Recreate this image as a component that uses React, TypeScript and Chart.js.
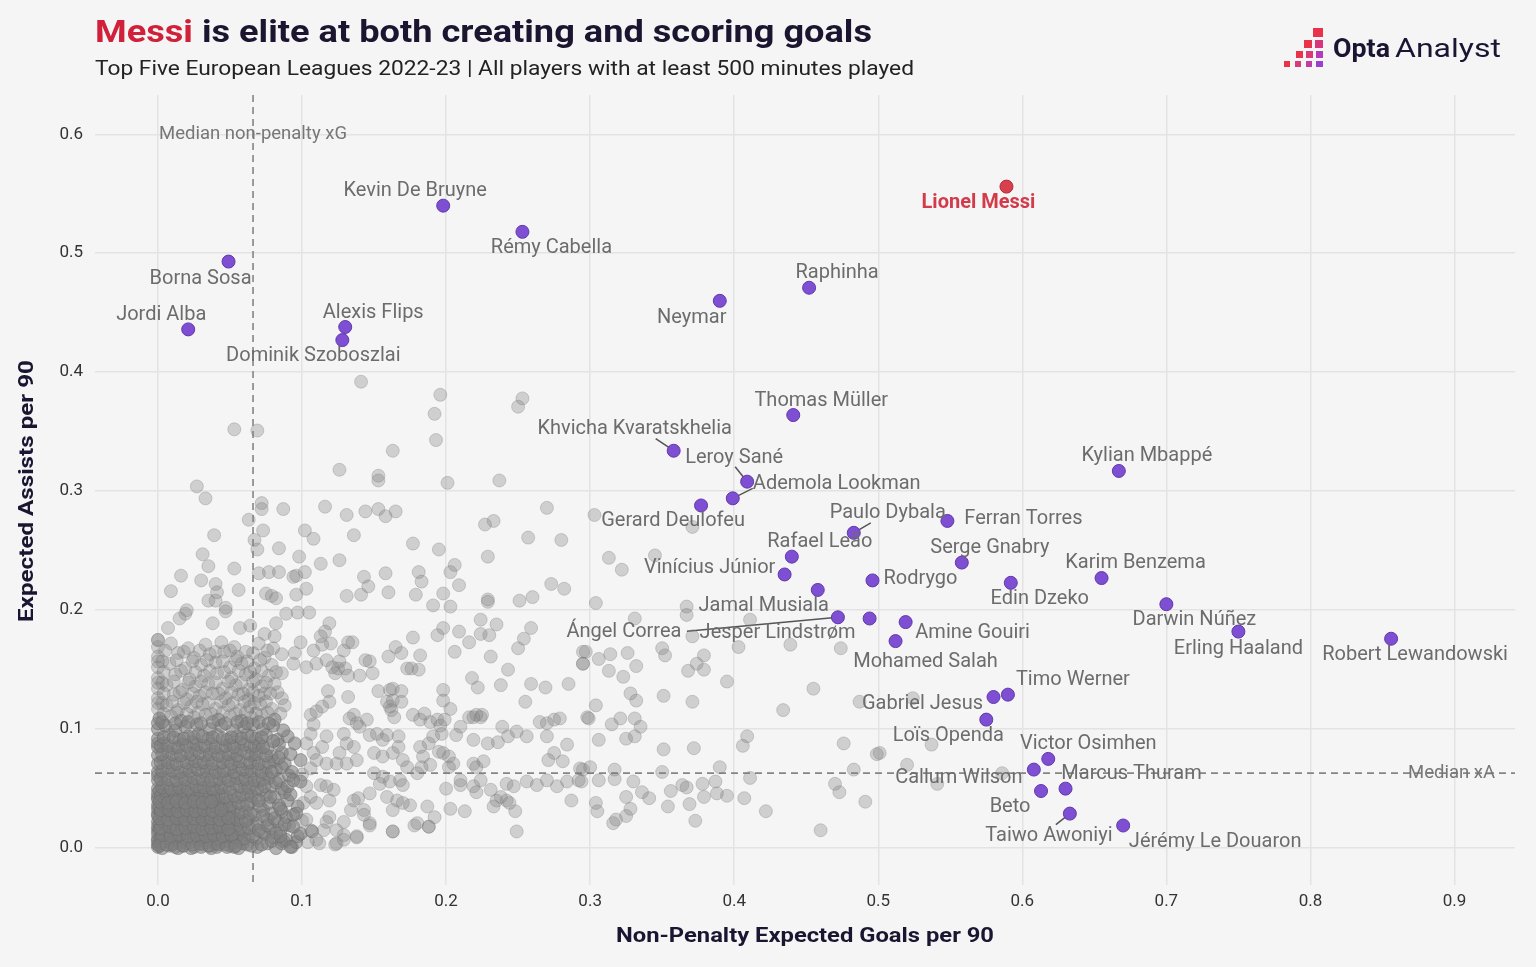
import React, { useEffect, useRef } from "react";
import { Chart, registerables } from "chart.js";
Chart.register(...registerables);

// ---------- DATA ----------
const xTicks = [0, 0.1, 0.2, 0.3, 0.4, 0.5, 0.6, 0.7, 0.8, 0.9];
const yTicks = [0, 0.1, 0.2, 0.3, 0.4, 0.5, 0.6];
const medianXG = 0.066;
const medianXA = 0.063;

const highlightNames = [
  "Kevin De Bruyne", "Rémy Cabella", "Borna Sosa", "Jordi Alba", "Alexis Flips",
  "Dominik Szoboszlai", "Neymar", "Raphinha", "Thomas Müller", "Khvicha Kvaratskhelia",
  "Leroy Sané", "Ademola Lookman", "Gerard Deulofeu", "Paulo Dybala", "Ferran Torres",
  "Kylian Mbappé", "Rafael Leão", "Vinícius Júnior", "Serge Gnabry", "Karim Benzema",
  "Jamal Musiala", "Rodrygo", "Edin Dzeko", "Darwin Núñez", "Erling Haaland",
  "Robert Lewandowski", "Ángel Correa", "Jesper Lindstrøm", "Amine Gouiri", "Mohamed Salah",
  "Timo Werner", "Gabriel Jesus", "Loïs Openda", "Victor Osimhen", "Callum Wilson",
  "Marcus Thuram", "Beto", "Taiwo Awoniyi", "Jérémy Le Douaron",
];
const highlightXG = [
  0.198, 0.253, 0.049, 0.021, 0.130, 0.128, 0.390, 0.452, 0.441, 0.358,
  0.409, 0.399, 0.377, 0.483, 0.548, 0.667, 0.440, 0.435, 0.558, 0.655,
  0.458, 0.496, 0.592, 0.700, 0.750, 0.856, 0.472, 0.494, 0.519, 0.512,
  0.590, 0.580, 0.575, 0.618, 0.608, 0.630, 0.613, 0.633, 0.670,
];
const highlightXA = [
  0.540, 0.518, 0.493, 0.436, 0.438, 0.427, 0.460, 0.471, 0.364, 0.334,
  0.308, 0.294, 0.288, 0.265, 0.275, 0.317, 0.245, 0.230, 0.240, 0.227,
  0.217, 0.225, 0.223, 0.205, 0.182, 0.176, 0.194, 0.193, 0.190, 0.174,
  0.129, 0.127, 0.108, 0.075, 0.066, 0.050, 0.048, 0.029, 0.019,
];
const messiName = "Lionel Messi";
const messiXG = 0.589;
const messiXA = 0.556;

// dense cluster of low-output players
const grayCore: [number, number][] = [
  [0,0.001],[0.002,0.004],[0.008,0.002],[0.014,0.000],[0.019,0.004],[0.025,0.001],[0.031,0.003],[0.037,0.000],[0.043,0.004],[0.050,0.002],[0.056,0.000],[0.062,0.003],[0.069,0.001],[0.076,0.004],[0.082,0.000],[0.093,0.001],[0.104,0.005],[0.112,0.004],[0.123,0.003],
  [0,0.008],[0.006,0.011],[0.011,0.007],[0.017,0.010],[0.022,0.012],[0.028,0.008],[0.034,0.011],[0.040,0.007],[0.045,0.012],[0.051,0.009],[0.057,0.007],[0.063,0.011],[0.068,0.008],[0.074,0.012],[0.080,0.009],[0.087,0.006],[0.097,0.010],
  [0,0.015],[0.003,0.018],[0.009,0.014],[0.014,0.019],[0.020,0.016],[0.026,0.014],[0.031,0.018],[0.037,0.015],[0.043,0.019],[0.048,0.014],[0.054,0.017],[0.060,0.015],[0.066,0.019],[0.072,0.014],[0.078,0.017],[0.085,0.015],[0.091,0.019],[0.107,0.014],
  [0,0.022],[0.006,0.025],[0.012,0.021],[0.017,0.024],[0.023,0.026],[0.029,0.022],[0.034,0.025],[0.040,0.021],[0.046,0.024],[0.052,0.026],[0.058,0.022],[0.063,0.025],[0.069,0.021],[0.076,0.024],[0.083,0.022],[0.089,0.026],[0.100,0.023],
  [0,0.029],[0.004,0.032],[0.009,0.028],[0.015,0.031],[0.020,0.033],[0.026,0.029],[0.032,0.032],[0.038,0.028],[0.044,0.031],[0.049,0.033],[0.055,0.029],[0.061,0.031],[0.067,0.028],[0.073,0.032],[0.079,0.029],[0.086,0.031],[0.094,0.028],
  [0,0.036],[0.006,0.039],[0.012,0.035],[0.018,0.038],[0.024,0.040],[0.030,0.036],[0.035,0.039],[0.041,0.035],[0.047,0.038],[0.053,0.040],[0.059,0.036],[0.065,0.039],[0.071,0.035],[0.077,0.038],[0.084,0.036],[0.090,0.040],
  [0,0.043],[0.003,0.046],[0.009,0.042],[0.015,0.045],[0.021,0.047],[0.027,0.043],[0.033,0.046],[0.039,0.042],[0.044,0.045],[0.050,0.047],[0.056,0.043],[0.062,0.046],[0.068,0.042],[0.075,0.045],[0.081,0.043],[0.088,0.047],
  [0,0.050],[0.006,0.053],[0.012,0.049],[0.018,0.052],[0.024,0.054],[0.029,0.050],[0.035,0.053],[0.041,0.049],[0.047,0.052],[0.054,0.054],[0.060,0.050],[0.066,0.053],[0.072,0.049],[0.079,0.052],[0.086,0.050],
  [0,0.057],[0.004,0.060],[0.010,0.056],[0.016,0.059],[0.022,0.061],[0.028,0.057],[0.034,0.060],[0.040,0.056],[0.046,0.059],[0.052,0.061],[0.058,0.057],[0.064,0.060],[0.070,0.056],[0.077,0.059],[0.084,0.057],[0.091,0.061],
  [0,0.064],[0.007,0.067],[0.013,0.063],[0.019,0.066],[0.025,0.068],[0.031,0.064],[0.037,0.067],[0.043,0.063],[0.050,0.066],[0.056,0.068],[0.062,0.064],[0.069,0.067],[0.075,0.063],[0.082,0.066],
  [0,0.071],[0.004,0.074],[0.010,0.070],[0.017,0.073],[0.023,0.075],[0.029,0.071],[0.035,0.074],[0.042,0.070],[0.048,0.073],[0.054,0.075],[0.061,0.071],[0.067,0.074],[0.074,0.070],[0.080,0.073],[0.088,0.071],
  [0,0.078],[0.007,0.081],[0.013,0.077],[0.020,0.080],[0.026,0.082],[0.033,0.078],[0.039,0.081],[0.045,0.077],[0.052,0.080],[0.058,0.082],[0.065,0.078],[0.071,0.081],[0.079,0.077],[0.086,0.080],
  [0,0.085],[0.004,0.088],[0.011,0.084],[0.017,0.087],[0.024,0.089],[0.030,0.085],[0.037,0.088],[0.044,0.084],[0.050,0.087],[0.057,0.089],[0.064,0.085],[0.070,0.088],[0.076,0.084],[0.084,0.087],
  [0,0.092],[0.008,0.095],[0.015,0.091],[0.021,0.094],[0.028,0.096],[0.035,0.092],[0.041,0.095],[0.048,0.091],[0.055,0.094],[0.062,0.096],[0.068,0.092],[0.075,0.095],[0.083,0.091],[0.090,0.094],
  [0,0.100],[0.005,0.103],[0.012,0.099],[0.019,0.102],[0.027,0.104],[0.036,0.100],[0.044,0.103],[0.052,0.099],[0.060,0.102],[0.066,0.104],[0.073,0.100],[0.080,0.103],[0.087,0.099],
  [0.001,0.109],[0.009,0.111],[0.016,0.107],[0.025,0.110],[0.033,0.112],[0.042,0.108],[0.050,0.111],[0.058,0.107],[0.065,0.110],[0.072,0.112],[0.081,0.108],
  [0,0.117],[0.006,0.120],[0.014,0.116],[0.023,0.119],[0.031,0.121],[0.040,0.117],[0.049,0.120],[0.057,0.116],[0.064,0.119],[0.071,0.121],[0.079,0.117],[0.088,0.120],
  [0,0.126],[0.011,0.129],[0.020,0.125],[0.029,0.128],[0.038,0.130],[0.047,0.126],[0.056,0.129],[0.063,0.125],[0.070,0.128],[0.078,0.130],[0.086,0.126],
  [0,0.134],[0.006,0.137],[0.017,0.133],[0.026,0.136],[0.035,0.138],[0.045,0.134],[0.054,0.137],[0.063,0.133],[0.072,0.136],[0.081,0.138],
  [0,0.143],[0.012,0.146],[0.022,0.142],[0.032,0.145],[0.041,0.147],[0.051,0.143],[0.061,0.146],[0.068,0.142],[0.077,0.145],[0.086,0.147],
  [0,0.152],[0.008,0.155],[0.019,0.151],[0.030,0.154],[0.040,0.156],[0.050,0.152],[0.058,0.155],[0.067,0.151],[0.079,0.154],
  [0,0.161],[0.014,0.164],[0.025,0.160],[0.036,0.163],[0.046,0.165],[0.055,0.161],[0.066,0.164],[0.074,0.160],[0.086,0.163],
  [0,0.169],[0.009,0.172],[0.021,0.168],[0.033,0.171],[0.044,0.173],[0.053,0.169],[0.070,0.172],[0.080,0.168],
  [0.001,0.005],[0.005,0.006],[0.011,0.004],[0.016,0.006],[0.022,0.005],[0.028,0.006],[0.034,0.005],[0.040,0.004],[0.046,0.006],[0.053,0.005],
  [0.000,0.012],[0.004,0.013],[0.009,0.012],[0.015,0.013],[0.020,0.011],[0.026,0.012],[0.032,0.013],[0.038,0.012],[0.044,0.011],[0.050,0.013],[0.056,0.012],
  [0.001,0.020],[0.006,0.019],[0.012,0.020],[0.018,0.019],[0.024,0.020],[0.030,0.019],[0.036,0.020],[0.042,0.019],[0.048,0.020],[0.055,0.019],
  [0.000,0.027],[0.004,0.026],[0.010,0.027],[0.016,0.026],[0.022,0.027],[0.028,0.026],[0.034,0.027],[0.040,0.026],[0.046,0.027],[0.052,0.026],
  [0.001,0.034],[0.007,0.033],[0.013,0.034],[0.019,0.033],[0.025,0.034],[0.031,0.033],[0.037,0.034],[0.043,0.033],[0.050,0.034],
  [0.000,0.041],[0.005,0.040],[0.011,0.041],[0.017,0.040],[0.023,0.041],[0.029,0.040],[0.036,0.041],[0.042,0.040],
  [0.001,0.048],[0.008,0.047],[0.014,0.048],[0.020,0.047],[0.027,0.048],[0.033,0.047],[0.039,0.048],
  [0,0.003],[0,0.006],[0,0.018],[0,0.033],[0,0.046],[0,0.061],[0,0.088],[0,0.105],[0,0.122],[0,0.139],[0,0.157],[0,0.175],
];

// further players packed into the same cluster
const grayCoreDense: [number, number][] = [
  [0.003,0.000],[0.010,0.003],[0.017,0.002],[0.023,0.000],[0.029,0.004],[0.035,0.002],[0.041,0.001],[0.047,0.003],[0.053,0.001],[0.059,0.004],[0.065,0.002],
  [0.002,0.009],[0.008,0.008],[0.014,0.010],[0.020,0.008],[0.025,0.010],[0.031,0.009],[0.037,0.010],[0.043,0.008],[0.048,0.010],[0.054,0.009],[0.060,0.008],[0.066,0.010],
  [0.001,0.016],[0.006,0.015],[0.011,0.017],[0.017,0.016],[0.023,0.018],[0.028,0.016],[0.034,0.015],[0.040,0.017],[0.045,0.016],[0.051,0.018],[0.057,0.016],[0.063,0.017],
  [0.003,0.023],[0.009,0.022],[0.015,0.024],[0.020,0.022],[0.026,0.023],[0.032,0.024],[0.037,0.022],[0.043,0.023],[0.049,0.022],[0.055,0.024],[0.061,0.023],
  [0.002,0.030],[0.007,0.031],[0.012,0.029],[0.018,0.030],[0.023,0.031],[0.029,0.030],[0.035,0.029],[0.041,0.030],[0.047,0.029],[0.052,0.031],[0.058,0.030],[0.064,0.029],
  [0.003,0.037],[0.009,0.036],[0.015,0.037],[0.021,0.036],[0.027,0.038],[0.033,0.037],[0.038,0.036],[0.044,0.037],[0.050,0.036],[0.056,0.038],[0.062,0.037],
  [0.002,0.044],[0.006,0.044],[0.012,0.043],[0.018,0.044],[0.024,0.045],[0.030,0.044],[0.036,0.043],[0.042,0.044],[0.047,0.043],[0.053,0.044],[0.059,0.045],[0.065,0.044],
  [0.003,0.051],[0.009,0.050],[0.015,0.051],[0.021,0.050],[0.027,0.052],[0.032,0.051],[0.038,0.050],[0.044,0.051],[0.050,0.050],[0.057,0.052],[0.063,0.051],[0.069,0.050],
  [0.002,0.058],[0.007,0.058],[0.013,0.057],[0.019,0.058],[0.025,0.059],[0.031,0.058],[0.037,0.057],[0.043,0.058],[0.049,0.057],[0.055,0.059],[0.061,0.058],[0.067,0.057],[0.073,0.058],
  [0.003,0.065],[0.010,0.065],[0.016,0.064],[0.022,0.065],[0.028,0.066],[0.034,0.065],[0.040,0.064],[0.046,0.065],[0.053,0.064],[0.059,0.066],[0.065,0.065],[0.072,0.064],
  [0.002,0.072],[0.007,0.072],[0.013,0.071],[0.020,0.072],[0.026,0.073],[0.032,0.072],[0.038,0.071],[0.045,0.072],[0.051,0.071],[0.057,0.073],[0.064,0.072],[0.070,0.071],[0.077,0.072],
  [0.003,0.079],[0.010,0.079],[0.016,0.078],[0.023,0.079],[0.029,0.080],[0.036,0.079],[0.042,0.078],[0.049,0.079],[0.055,0.078],[0.062,0.080],[0.068,0.079],[0.075,0.078],
  [0.002,0.086],[0.007,0.086],[0.014,0.085],[0.020,0.086],[0.027,0.087],[0.033,0.086],[0.040,0.085],[0.047,0.086],[0.053,0.085],[0.060,0.087],[0.067,0.086],[0.073,0.085],
  [0.004,0.093],[0.011,0.093],[0.018,0.092],[0.025,0.093],[0.031,0.094],[0.038,0.093],[0.045,0.092],[0.051,0.093],[0.058,0.092],[0.065,0.094],[0.072,0.093],
  [0.001,0.002],[0.006,0.003],[0.012,0.001],[0.018,0.002],[0.024,0.003],[0.030,0.001],[0.036,0.002],[0.042,0.003],[0.048,0.001],[0.054,0.002],
  [0.003,0.011],[0.009,0.010],[0.015,0.011],[0.021,0.010],[0.027,0.011],[0.033,0.010],[0.039,0.011],[0.045,0.010],[0.051,0.011],
  [0.002,0.017],[0.008,0.018],[0.013,0.016],[0.019,0.017],[0.025,0.018],[0.031,0.016],[0.037,0.017],[0.043,0.018],[0.049,0.016],
  [0.001,0.025],[0.007,0.024],[0.013,0.025],[0.019,0.024],[0.025,0.025],[0.031,0.024],[0.037,0.025],[0.043,0.024],[0.049,0.025],
  [0.002,0.032],[0.008,0.032],[0.014,0.031],[0.020,0.032],[0.026,0.031],[0.032,0.032],[0.038,0.031],[0.044,0.032],
  [0.001,0.039],[0.007,0.038],[0.013,0.039],[0.019,0.038],[0.025,0.039],[0.031,0.038],[0.037,0.039],
  [0.003,0.106],[0.012,0.105],[0.021,0.106],[0.030,0.105],[0.038,0.106],[0.047,0.105],[0.055,0.106],[0.062,0.105],[0.070,0.106],[0.077,0.105],
  [0.004,0.113],[0.013,0.114],[0.020,0.113],[0.028,0.114],[0.037,0.113],[0.045,0.114],[0.054,0.113],[0.061,0.114],[0.068,0.113],[0.076,0.114],[0.085,0.113],
  [0.003,0.122],[0.010,0.123],[0.018,0.122],[0.027,0.123],[0.035,0.122],[0.044,0.123],[0.052,0.122],[0.060,0.123],[0.067,0.122],[0.075,0.123],
  [0.004,0.130],[0.015,0.131],[0.024,0.130],[0.033,0.131],[0.042,0.130],[0.051,0.131],[0.059,0.130],[0.066,0.131],[0.074,0.130],[0.083,0.131],
  [0.003,0.139],[0.011,0.140],[0.021,0.139],[0.030,0.140],[0.040,0.139],[0.049,0.140],[0.058,0.139],[0.066,0.140],[0.075,0.139],
  [0.004,0.148],[0.016,0.149],[0.026,0.148],[0.036,0.149],[0.046,0.148],[0.056,0.149],[0.064,0.148],[0.072,0.149],[0.082,0.148],
  [0.003,0.157],[0.013,0.158],[0.024,0.157],[0.034,0.158],[0.045,0.157],[0.054,0.158],[0.062,0.157],[0.071,0.158],
  [0.005,0.166],[0.018,0.165],[0.029,0.166],[0.040,0.165],[0.050,0.166],[0.061,0.165],[0.076,0.166],
  [0.072,0.003],[0.079,0.006],[0.086,0.004],[0.070,0.015],[0.076,0.019],[0.082,0.013],[0.073,0.027],[0.081,0.025],[0.088,0.020],
  [0.070,0.040],[0.078,0.043],[0.085,0.033],[0.092,0.045],[0.074,0.052],[0.082,0.055],[0.090,0.052],[0.079,0.064],[0.086,0.068],
  [0.093,0.064],[0.084,0.076],[0.092,0.079],[0.080,0.090],[0.095,0.088],[0.097,0.035],[0.100,0.062],[0.096,0.005],
];

// mid band of players
const grayMid: [number, number][] = [
  [0.105,0.198],[0.097,0.198],[0.089,0.197],[0.119,0.189],[0.116,0.182],[0.113,0.178],[0.120,0.172],[0.114,0.171],[0.108,0.166],
  [0.177,0.177],[0.194,0.179],[0.198,0.185],[0.209,0.182],[0.224,0.192],[0.235,0.188],[0.230,0.179],[0.224,0.180],[0.216,0.173],
  [0.206,0.165],[0.231,0.161],[0.243,0.150],[0.250,0.168],[0.254,0.176],[0.259,0.185],[0.160,0.161],[0.165,0.169],[0.169,0.164],
  [0.182,0.162],[0.173,0.151],[0.176,0.151],[0.181,0.150],[0.132,0.173],[0.135,0.173],[0.129,0.166],[0.126,0.157],[0.125,0.151],
  [0.130,0.151],[0.117,0.158],[0.121,0.152],[0.110,0.155],[0.103,0.152],[0.094,0.155],[0.095,0.164],[0.099,0.173],[0.144,0.158],
  [0.147,0.157],[0.149,0.147],[0.140,0.145],[0.132,0.145],[0.123,0.147],[0.153,0.132],[0.161,0.133],[0.163,0.134],[0.169,0.132],
  [0.159,0.123],[0.163,0.124],[0.169,0.123],[0.162,0.116],[0.164,0.110],[0.161,0.119],[0.132,0.127],[0.118,0.132],[0.119,0.123],
  [0.114,0.119],[0.106,0.112],[0.110,0.115],[0.108,0.104],[0.198,0.133],[0.198,0.124],[0.203,0.117],[0.218,0.143],[0.222,0.135],
  [0.238,0.137],[0.255,0.123],[0.259,0.138],[0.269,0.135],[0.285,0.138],[0.216,0.110],[0.219,0.110],[0.224,0.110],[0.225,0.112],
  [0.221,0.112],[0.219,0.091],[0.229,0.088],[0.236,0.089],[0.239,0.102],[0.243,0.094],[0.249,0.098],[0.256,0.094],[0.265,0.106],
  [0.270,0.105],[0.275,0.108],[0.279,0.109],[0.270,0.094],[0.284,0.087],[0.275,0.080],[0.281,0.073],[0.271,0.074],[0.293,0.067],
  [0.298,0.110],[0.295,0.155],[0.295,0.165],[0.177,0.112],[0.182,0.108],[0.185,0.113],[0.189,0.106],[0.194,0.108],[0.196,0.103],
  [0.199,0.108],[0.210,0.102],[0.207,0.095],[0.197,0.096],[0.191,0.094],[0.188,0.088],[0.182,0.085],[0.184,0.077],[0.195,0.081],
  [0.198,0.080],[0.202,0.077],[0.205,0.071],[0.202,0.068],[0.189,0.070],[0.183,0.068],[0.180,0.063],[0.167,0.094],[0.159,0.095],
  [0.156,0.091],[0.152,0.096],[0.147,0.095],[0.140,0.102],[0.136,0.112],[0.133,0.109],[0.138,0.105],[0.145,0.108],[0.129,0.096],
  [0.131,0.088],[0.136,0.085],[0.126,0.080],[0.124,0.071],[0.131,0.071],[0.138,0.074],[0.150,0.080],[0.156,0.077],[0.163,0.080],
  [0.167,0.085],[0.170,0.074],[0.173,0.068],[0.117,0.094],[0.114,0.085],[0.106,0.096],[0.103,0.088],[0.108,0.080],[0.099,0.074],
  [0.110,0.074],[0.117,0.071],[0.106,0.067],[0.150,0.063],[0.156,0.060],[0.154,0.054],[0.161,0.056],[0.168,0.057],[0.170,0.053],
  [0.159,0.043],[0.166,0.040],[0.170,0.038],[0.175,0.036],[0.163,0.032],[0.147,0.046],[0.139,0.042],[0.134,0.032],[0.136,0.040],
  [0.143,0.032],[0.143,0.028],[0.147,0.021],[0.129,0.022],[0.119,0.026],[0.117,0.022],[0.115,0.015],[0.124,0.015],[0.129,0.007],
  [0.124,0.004],[0.138,0.010],[0.163,0.014],[0.180,0.021],[0.187,0.035],[0.192,0.026],[0.188,0.018],[0.203,0.033],[0.213,0.031],
  [0.200,0.050],[0.210,0.053],[0.219,0.052],[0.221,0.047],[0.224,0.057],[0.231,0.049],[0.235,0.040],[0.238,0.043],[0.242,0.054],
  [0.247,0.052],[0.244,0.038],[0.248,0.031],[0.249,0.014],[0.256,0.056],[0.263,0.053],[0.270,0.057],[0.277,0.052],[0.284,0.056],
  [0.287,0.040],[0.292,0.057],[0.242,0.040],[0.233,0.035],[0.210,0.057],[0.219,0.071],[0.221,0.068],[0.226,0.073],[0.094,0.057],
  [0.099,0.056],[0.103,0.052],[0.106,0.043],[0.113,0.053],[0.117,0.052],[0.122,0.049],[0.119,0.040],[0.110,0.038],[0.101,0.038],
  [0.096,0.029],[0.103,0.024],[0.094,0.018],[0.099,0.012],[0.106,0.015],[0.110,0.007],[0.089,0.007],[0.085,0.010],[0.092,0.001],
  [0.019,0.197],[0.015,0.193],[0.038,0.189],[0.047,0.199],[0.057,0.185],[0.064,0.187],[0.007,0.185],[0.000,0.175],[0.074,0.180],
  [0.082,0.189],[0.081,0.178],[0.129,0.011],[0.138,0.009],[0.147,0.019],[0.163,0.014],[0.178,0.019],[0.188,0.018],[0.107,0.014],
];

// upper and right-hand players
const grayUpper: [number, number][] = [
  [0.141,0.392],[0.196,0.381],[0.192,0.365],[0.193,0.343],[0.253,0.378],[0.250,0.371],[0.053,0.352],[0.069,0.351],[0.163,0.334],
  [0.126,0.318],[0.153,0.313],[0.153,0.309],[0.027,0.304],[0.033,0.294],[0.201,0.307],[0.237,0.309],[0.072,0.290],[0.072,0.285],
  [0.087,0.285],[0.116,0.287],[0.131,0.280],[0.144,0.283],[0.153,0.285],[0.158,0.279],[0.165,0.283],[0.063,0.276],[0.039,0.263],
  [0.073,0.267],[0.102,0.267],[0.108,0.260],[0.136,0.263],[0.270,0.286],[0.227,0.272],[0.233,0.275],[0.257,0.261],[0.280,0.259],
  [0.067,0.259],[0.069,0.251],[0.084,0.252],[0.098,0.245],[0.113,0.239],[0.126,0.242],[0.177,0.256],[0.195,0.251],[0.229,0.245],
  [0.031,0.247],[0.035,0.237],[0.053,0.235],[0.016,0.229],[0.030,0.225],[0.040,0.222],[0.041,0.215],[0.056,0.217],[0.009,0.216],
  [0.035,0.208],[0.040,0.208],[0.070,0.231],[0.077,0.232],[0.084,0.232],[0.094,0.228],[0.096,0.229],[0.102,0.232],[0.075,0.214],
  [0.079,0.212],[0.082,0.210],[0.096,0.213],[0.103,0.218],[0.143,0.228],[0.146,0.220],[0.141,0.213],[0.131,0.212],[0.158,0.231],
  [0.160,0.215],[0.181,0.232],[0.183,0.224],[0.179,0.213],[0.203,0.232],[0.206,0.238],[0.209,0.221],[0.198,0.214],[0.191,0.204],
  [0.203,0.203],[0.229,0.209],[0.229,0.207],[0.251,0.208],[0.260,0.211],[0.273,0.222],[0.282,0.218],[0.020,0.200],[0.047,0.202],
  [0.303,0.280],[0.371,0.270],[0.313,0.244],[0.322,0.234],[0.345,0.246],[0.304,0.206],[0.367,0.203],[0.367,0.196],[0.331,0.193],
  [0.411,0.192],[0.371,0.178],[0.403,0.169],[0.439,0.171],[0.474,0.168],[0.297,0.165],[0.295,0.155],[0.306,0.159],[0.314,0.163],
  [0.326,0.164],[0.332,0.153],[0.350,0.168],[0.352,0.162],[0.379,0.162],[0.374,0.155],[0.368,0.149],[0.379,0.150],[0.313,0.149],
  [0.323,0.144],[0.395,0.140],[0.328,0.130],[0.332,0.124],[0.351,0.128],[0.371,0.123],[0.455,0.134],[0.434,0.116],[0.487,0.123],
  [0.304,0.120],[0.299,0.109],[0.315,0.104],[0.321,0.109],[0.331,0.109],[0.335,0.102],[0.306,0.091],[0.325,0.092],[0.331,0.094],
  [0.351,0.083],[0.372,0.084],[0.409,0.094],[0.406,0.086],[0.476,0.088],[0.499,0.079],[0.390,0.068],[0.483,0.066],[0.300,0.068],
  [0.295,0.066],[0.317,0.066],[0.350,0.064],[0.411,0.059],[0.306,0.057],[0.317,0.058],[0.330,0.056],[0.294,0.056],[0.364,0.053],
  [0.367,0.051],[0.378,0.054],[0.387,0.056],[0.470,0.054],[0.336,0.047],[0.341,0.042],[0.356,0.048],[0.379,0.043],[0.388,0.046],
  [0.395,0.044],[0.407,0.042],[0.473,0.047],[0.491,0.039],[0.325,0.043],[0.304,0.038],[0.305,0.031],[0.328,0.033],[0.325,0.027],
  [0.318,0.024],[0.316,0.021],[0.354,0.035],[0.369,0.037],[0.373,0.023],[0.422,0.031],[0.460,0.015],[0.524,0.126],[0.537,0.087],
  [0.501,0.080],[0.520,0.070],[0.541,0.054],[0.586,0.063],
];

// label placement (pixel offsets from each point; optional leader start)
const labelLayout: Record<string, number[]> = {
  "Kevin De Bruyne": [-28, -15], "Rémy Cabella": [29, 16], "Borna Sosa": [-28, 17],
  "Jordi Alba": [-27, -14], "Alexis Flips": [28, -14], "Dominik Szoboszlai": [-29, 16],
  "Neymar": [-28, 17], "Raphinha": [28, -15], "Thomas Müller": [28, -14],
  "Khvicha Kvaratskhelia": [-39, -22, -18, -12], "Leroy Sané": [-13, -24, -12, -15],
  "Ademola Lookman": [104, -14, 20, -10], "Gerard Deulofeu": [-28, 16],
  "Paulo Dybala": [34, -20, 17, -10], "Ferran Torres": [76, -2], "Kylian Mbappé": [28, -15],
  "Rafael Leão": [28, -15], "Vinícius Júnior": [-75, -6], "Serge Gnabry": [28, -15],
  "Karim Benzema": [34, -15], "Jamal Musiala": [-54, 16], "Rodrygo": [48, -1],
  "Edin Dzeko": [29, 16], "Darwin Núñez": [28, 16], "Erling Haaland": [0, 17],
  "Robert Lewandowski": [24, 16], "Ángel Correa": [-214, 15, -151, 14],
  "Jesper Lindstrøm": [-92, 15], "Amine Gouiri": [67, 11], "Mohamed Salah": [30, 21],
  "Timo Werner": [65, -15], "Gabriel Jesus": [-71, 7], "Loïs Openda": [-38, 16],
  "Victor Osimhen": [40, -15], "Callum Wilson": [-75, 8], "Marcus Thuram": [66, -15],
  "Beto": [-31, 16], "Taiwo Awoniyi": [-21, 22, -14, 11], "Jérémy Le Douaron": [92, 16],
};

// ---------- helpers ----------
const FONT = "Roboto, 'Noto Sans', sans-serif";

function fitText(ctx: CanvasRenderingContext2D, text: string, x: number, y: number, w: number, align: CanvasTextAlign) {
  const m = ctx.measureText(text).width;
  const s = w / m;
  ctx.save();
  ctx.translate(x, y);
  ctx.scale(s, 1);
  ctx.textAlign = align;
  ctx.fillText(text, 0, 0);
  ctx.restore();
}

const overlayPlugin = {
  id: "overlay",
  beforeDatasetsDraw(chart: any) {
    const ctx: CanvasRenderingContext2D = chart.ctx;
    const a = chart.chartArea;
    const xs = chart.scales.x, ys = chart.scales.y;
    ctx.save();
    ctx.strokeStyle = "#858585";
    ctx.lineWidth = 1.6;
    ctx.setLineDash([7, 5]);
    const vx = xs.getPixelForValue(medianXG);
    ctx.beginPath();
    ctx.moveTo(vx, a.top);
    ctx.lineTo(vx, a.bottom);
    ctx.stroke();
    const hy = ys.getPixelForValue(medianXA);
    ctx.beginPath();
    ctx.moveTo(a.left, hy);
    ctx.lineTo(a.right, hy);
    ctx.stroke();
    ctx.setLineDash([]);
    ctx.strokeStyle = "#555";
    ctx.lineWidth = 1.5;
    highlightNames.forEach((n, i) => {
      const l = labelLayout[n];
      if (!l || l.length < 4) return;
      const px = xs.getPixelForValue(highlightXG[i]);
      const py = ys.getPixelForValue(highlightXA[i]);
      ctx.beginPath();
      ctx.moveTo(px + l[2], py + l[3]);
      ctx.lineTo(px, py);
      ctx.stroke();
    });
    ctx.restore();
  },
  afterDatasetsDraw(chart: any) {
    const ctx: CanvasRenderingContext2D = chart.ctx;
    const xs = chart.scales.x, ys = chart.scales.y;
    ctx.save();
    ctx.textBaseline = "middle";
    ctx.textAlign = "center";
    ctx.font = `18.5px ${FONT}`;
    ctx.fillStyle = "#777";
    ctx.fillText("Median non-penalty xG", xs.getPixelForValue(medianXG), ys.getPixelForValue(0.6));
    ctx.fillText("Median xA", xs.getPixelForValue(0.898), ys.getPixelForValue(medianXA));
    ctx.font = `20px ${FONT}`;
    ctx.fillStyle = "#6c6c6c";
    highlightNames.forEach((n, i) => {
      const l = labelLayout[n] || [0, -16];
      const px = xs.getPixelForValue(highlightXG[i]);
      const py = ys.getPixelForValue(highlightXA[i]);
      ctx.fillText(n, px + l[0], py + l[1]);
    });
    ctx.font = `bold 20px ${FONT}`;
    ctx.fillStyle = "#d33a4a";
    ctx.fillText(messiName, xs.getPixelForValue(messiXG) - 28, ys.getPixelForValue(messiXA) + 16);
    ctx.restore();
  },
  afterDraw(chart: any) {
    const ctx: CanvasRenderingContext2D = chart.ctx;
    ctx.save();
    ctx.textBaseline = "alphabetic";
    ctx.font = `bold 31px ${FONT}`;
    const t1 = "Messi";
    const t2 = " is elite at both creating and scoring goals";
    const full = ctx.measureText(t1 + t2).width;
    const s = 777 / full;
    ctx.save();
    ctx.translate(95, 42);
    ctx.scale(s, 1);
    ctx.textAlign = "left";
    ctx.fillStyle = "#d0203a";
    ctx.fillText(t1, 0, 0);
    ctx.fillStyle = "#1b1530";
    ctx.fillText(t2, ctx.measureText(t1).width, 0);
    ctx.restore();
    ctx.font = `20px ${FONT}`;
    ctx.fillStyle = "#222";
    fitText(ctx, "Top Five European Leagues 2022-23 | All players with at least 500 minutes played", 95, 75, 819, "left");
    ctx.font = `bold 20px ${FONT}`;
    ctx.fillStyle = "#1a1530";
    ctx.textBaseline = "middle";
    fitText(ctx, "Non-Penalty Expected Goals per 90", 805, 937, 378, "center");
    ctx.save();
    ctx.translate(28, 491);
    ctx.rotate(-Math.PI / 2);
    fitText(ctx, "Expected Assists per 90", 0, 0, 262, "center");
    ctx.restore();
    const sq: [number, number, number, number, string][] = [
      [1313, 28, 10, 9, "#e8334a"],
      [1304, 40, 8, 8, "#e8334a"], [1315, 40, 8, 8, "#d8357c"],
      [1296, 51, 7, 7, "#e8334a"], [1306, 51, 7, 7, "#db3a78"], [1316, 51, 7, 7, "#b43cb8"],
      [1284, 61, 6, 6, "#e8334a"], [1295, 61, 6, 6, "#d83c7c"], [1306, 61, 6, 6, "#c03ca8"], [1316, 61, 7, 6, "#9b3fcf"],
    ];
    sq.forEach(([x, y, w, h, c]) => { ctx.fillStyle = c; ctx.fillRect(x, y, w, h); });
    ctx.textBaseline = "alphabetic";
    ctx.fillStyle = "#1c1433";
    ctx.font = `bold 25px ${FONT}`;
    fitText(ctx, "Opta", 1333, 57, 57, "left");
    ctx.font = `25px ${FONT}`;
    fitText(ctx, "Analyst", 1395, 57, 106, "left");
    ctx.restore();
  },
};

export default function App() {
  const ref = useRef<HTMLCanvasElement>(null);
  useEffect(() => {
    document.body.style.margin = "0";
    document.body.style.background = "#f5f5f5";
    const all = [...grayCore, ...grayCoreDense, ...grayMid, ...grayUpper];
    const inCluster = ([x, y]: [number, number]) => x < 0.1 && y < 0.11;
    const cluster = all.filter(inCluster).map(([x, y]) => ({ x, y }));
    const spread = all.filter((p) => !inCluster(p)).map(([x, y]) => ({ x, y }));
    const purple = highlightXG.map((x, i) => ({ x, y: highlightXA[i] }));
    const chart = new Chart(ref.current as HTMLCanvasElement, {
      type: "scatter",
      data: {
        datasets: [
          {
            data: spread,
            pointRadius: 6.5,
            pointHoverRadius: 6.5,
            pointBackgroundColor: "rgba(128,128,128,0.32)",
            pointBorderColor: "rgba(115,115,115,0.3)",
            pointBorderWidth: 1,
          },
          {
            data: cluster,
            pointRadius: 6.5,
            pointHoverRadius: 6.5,
            pointBackgroundColor: "rgba(128,128,128,0.58)",
            pointBorderColor: "rgba(105,105,105,0.5)",
            pointBorderWidth: 1,
          },
          {
            data: purple,
            pointRadius: 6.5,
            pointHoverRadius: 6.5,
            pointBackgroundColor: "rgb(126,79,210)",
            pointBorderColor: "rgb(96,55,170)",
            pointBorderWidth: 1,
          },
          {
            data: [{ x: messiXG, y: messiXA }],
            pointRadius: 6.5,
            pointHoverRadius: 6.5,
            pointBackgroundColor: "#d9404d",
            pointBorderColor: "#b02a38",
            pointBorderWidth: 1,
          },
        ],
      },
      options: {
        animation: false,
        responsive: false,
        events: [],
        layout: { padding: { top: 95, right: 21, left: 0, bottom: 0 } },
        plugins: { legend: { display: false }, tooltip: { enabled: false } },
        scales: {
          x: {
            type: "linear",
            min: -0.0437,
            max: 0.942,
            afterBuildTicks: (scale: any) => { scale.ticks = xTicks.map((v) => ({ value: v })); },
            afterFit: (scale: any) => { scale.height = 82; },
            grid: { color: "#e3e3e3", lineWidth: 1.5, drawTicks: false },
            border: { display: false },
            ticks: {
              padding: 7,
              color: "#333",
              font: { family: FONT, size: 17 },
              callback: (v: any) => Number(v).toFixed(1),
            },
          },
          y: {
            type: "linear",
            min: -0.031,
            max: 0.633,
            afterBuildTicks: (scale: any) => { scale.ticks = yTicks.map((v) => ({ value: v })); },
            afterFit: (scale: any) => { scale.width = 95; },
            grid: { color: "#e3e3e3", lineWidth: 1.5, drawTicks: false },
            border: { display: false },
            ticks: {
              padding: 12,
              color: "#333",
              font: { family: FONT, size: 17 },
              callback: (v: any) => Number(v).toFixed(1),
            },
          },
        },
      },
      plugins: [overlayPlugin],
    } as any);
    return () => chart.destroy();
  }, []);
  return (
    <div style={{ width: 1536, height: 967, background: "#f5f5f5", position: "relative", overflow: "hidden" }}>
      <canvas ref={ref} width={1536} height={967} style={{ display: "block", width: 1536, height: 967 }} />
    </div>
  );
}
